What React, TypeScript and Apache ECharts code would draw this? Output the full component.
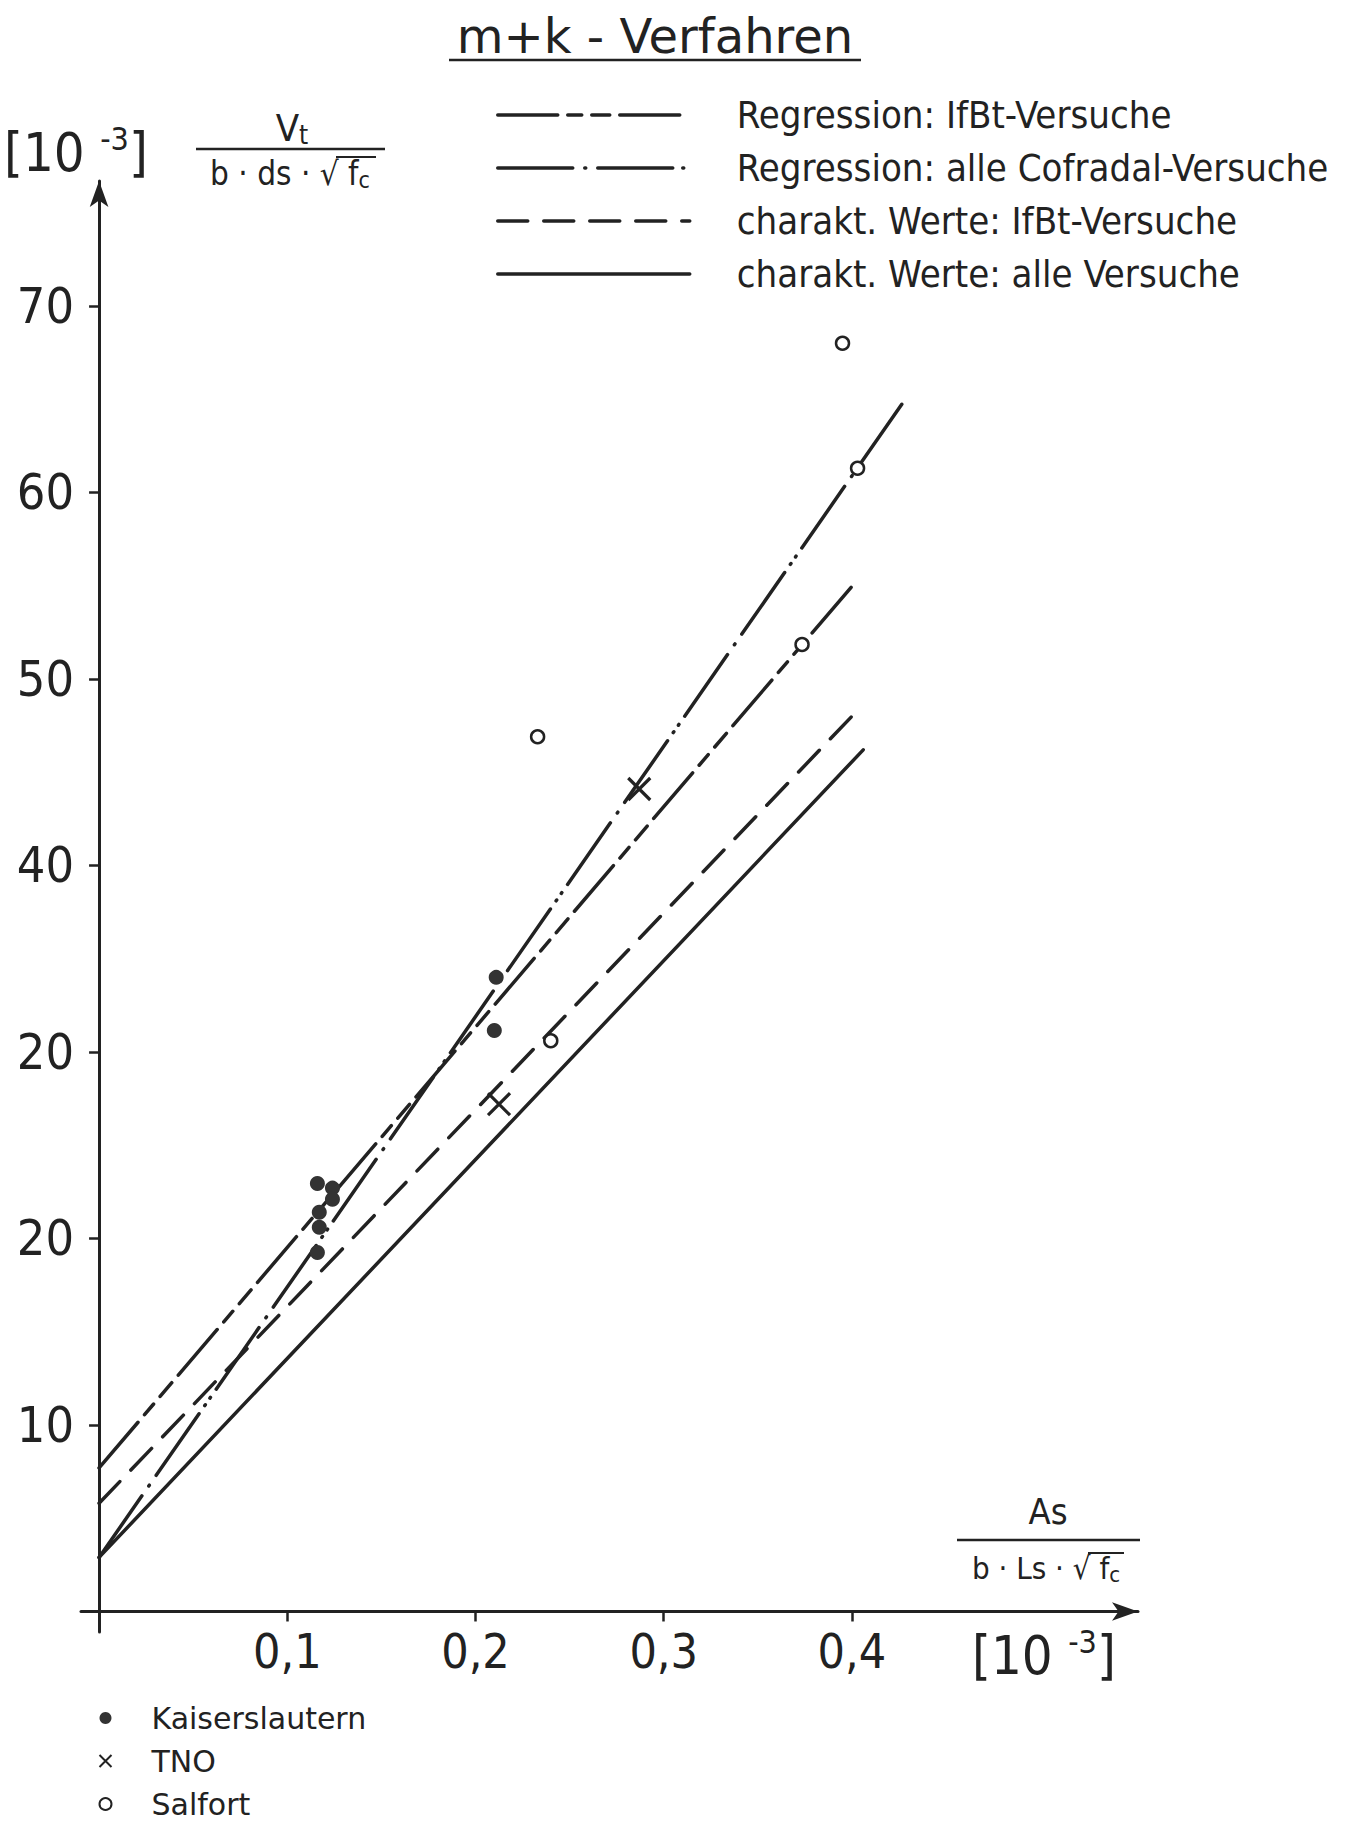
import React, { useEffect, useRef } from 'react';
import * as echarts from 'echarts';

// ---- data ----
const lineNames = [
  'Regression: IfBt-Versuche',
  'Regression: alle Cofradal-Versuche',
  'charakt. Werte: IfBt-Versuche',
  'charakt. Werte: alle Versuche',
];
const lineStartX = [0, 0, 0, 0];
const lineStartY = [7.7, 2.9, 5.8, 2.9];
const lineEndX = [0.402, 0.427, 0.4, 0.406];
const lineEndY = [55.2, 64.8, 48.0, 46.2];

const pointNames = ['Kaiserslautern', 'TNO', 'Salfort'];
const kaiserX = [0.116, 0.124, 0.124, 0.117, 0.117, 0.116, 0.211, 0.21];
const kaiserY = [22.95, 22.7, 22.1, 21.4, 20.6, 19.25, 34.0, 31.15];
const tnoX = [0.2125, 0.287];
const tnoY = [27.2, 44.1];
const salfortX = [0.233, 0.24, 0.3735, 0.395, 0.403];
const salfortY = [46.9, 30.6, 51.85, 68.0, 61.3];

const xTickValues = [0.1, 0.2, 0.3, 0.4];
const xTickLabels = ['0,1', '0,2', '0,3', '0,4'];
const yTickValues = [10, 20, 30, 40, 50, 60, 70];
const yTickLabels = ['10', '20', '20', '40', '50', '60', '70'];

// ---- styles ----
const INK = '#222';
const FONT = "'DejaVu Sans Condensed', 'DejaVu Sans', sans-serif";
const WIDE = "'DejaVu Sans', sans-serif";
const lineDashes: any[] = [
  [60, 10, 14, 10, 18, 10],
  [75, 12, 1, 12, 75, 10, 1, 8, 1, 10],
  [30, 16],
  'solid',
];

export default function App() {
  const ref = useRef<HTMLDivElement>(null);
  useEffect(() => {
    if (!ref.current) return;
    const chart = echarts.init(ref.current, undefined, { renderer: 'svg' });

    const lineSeries = lineNames.map((name, i) => ({
      name,
      type: 'line',
      data: [
        [lineStartX[i], lineStartY[i]],
        [lineEndX[i], lineEndY[i]],
      ],
      symbol: 'none',
      z: 2,
      lineStyle: { color: INK, width: 3.5, type: lineDashes[i], cap: 'round' },
      itemStyle: { color: INK },
    }));

    const zip = (xs: number[], ys: number[]) => xs.map((x, i) => [x, ys[i]]);

    const scatterSeries = [
      {
        name: pointNames[0],
        type: 'scatter',
        data: zip(kaiserX, kaiserY),
        symbol: 'circle',
        symbolSize: 15,
        z: 5,
        itemStyle: { color: '#333', opacity: 1 },
      },
      {
        name: pointNames[1],
        type: 'scatter',
        data: zip(tnoX, tnoY),
        symbol: 'path://M0,0L10,10M10,0L0,10',
        symbolSize: 22,
        z: 5,
        itemStyle: { color: 'none', borderColor: INK, borderWidth: 3.2, opacity: 1 },
      },
      {
        name: pointNames[2],
        type: 'scatter',
        data: zip(salfortX, salfortY),
        symbol: 'circle',
        symbolSize: 13,
        z: 5,
        itemStyle: { color: '#fff', borderColor: INK, borderWidth: 2.5, opacity: 1 },
      },
    ];

    const bracket = (x: number, y: number) => ({
      type: 'text',
      x,
      y,
      style: {
        text: '{a|[10 }{s|-3}{a|]}',
        fill: INK,
        verticalAlign: 'middle',
        rich: {
          a: { fontSize: 54, lineHeight: 58, fontFamily: FONT, fill: INK },
          s: { fontSize: 32, lineHeight: 32, fontFamily: FONT, fill: INK, verticalAlign: 'top' },
        },
      },
    });

    const option: any = {
      animation: false,
      backgroundColor: '#fff',
      textStyle: { fontFamily: FONT, color: INK },
      grid: { left: 81, top: 181, width: 1057, height: 1451, containLabel: false },
      xAxis: {
        type: 'value',
        min: -0.0096,
        max: 0.552,
        axisLine: {
          show: true,
          onZero: true,
          symbol: ['none', 'arrow'],
          symbolSize: [14, 26],
          lineStyle: { color: INK, width: 3 },
        },
        axisTick: {
          show: true,
          customValues: xTickValues,
          length: 10,
          lineStyle: { color: INK, width: 2.5 },
        },
        axisLabel: {
          customValues: xTickValues,
          formatter: (v: number) => {
            const k = xTickValues.findIndex((t) => Math.abs(t - v) < 1e-6);
            return k >= 0 ? xTickLabels[k] : '';
          },
          fontSize: 48,
          fontFamily: FONT,
          color: INK,
          margin: -5,
        },
        splitLine: { show: false },
      },
      yAxis: {
        type: 'value',
        min: -1.1,
        max: 76.7,
        axisLine: {
          show: true,
          onZero: true,
          symbol: ['none', 'arrow'],
          symbolSize: [14, 26],
          lineStyle: { color: INK, width: 3 },
        },
        axisTick: {
          show: true,
          customValues: yTickValues,
          length: 10,
          lineStyle: { color: INK, width: 2.5 },
        },
        axisLabel: {
          customValues: yTickValues,
          formatter: (v: number) => {
            const k = yTickValues.findIndex((t) => Math.abs(t - v) < 1e-6);
            return k >= 0 ? yTickLabels[k] : '';
          },
          fontSize: 50,
          fontFamily: FONT,
          color: INK,
          margin: 7,
        },
        splitLine: { show: false },
      },
      legend: [
        {
          data: lineNames,
          orient: 'vertical',
          left: 496,
          top: 95,
          itemWidth: 192,
          itemHeight: 14,
          itemGap: 13,
          padding: 0,
          lineStyle: { width: 3.5 },
          itemStyle: { color: 'rgba(0,0,0,0)', borderColor: 'rgba(0,0,0,0)', borderWidth: 0, opacity: 0 },
          textStyle: {
            fontSize: 38,
            lineHeight: 40,
            fontFamily: FONT,
            color: INK,
            padding: [0, 0, 0, 42],
          },
        },
        {
          data: pointNames,
          orient: 'vertical',
          left: 97,
          top: 1703,
          height: 140,
          itemWidth: 12,
          itemHeight: 12,
          itemGap: 13,
          padding: 0,
          textStyle: {
            fontSize: 30,
            lineHeight: 30,
            fontFamily: WIDE,
            color: INK,
            padding: [0, 0, 0, 35],
          },
        },
      ],
      graphic: [
        {
          type: 'text',
          x: 655,
          y: 36,
          style: {
            text: 'm+k - Verfahren',
            fontSize: 48,
            fontFamily: WIDE,
            fill: INK,
            align: 'center',
            verticalAlign: 'middle',
          },
        },
        { type: 'line', shape: { x1: 449, y1: 60, x2: 861, y2: 60 }, style: { stroke: INK, lineWidth: 2.5 } },
        bracket(4, 152),
        {
          type: 'text',
          x: 292,
          y: 128,
          style: {
            text: '{v|V}{t|t}',
            align: 'center',
            verticalAlign: 'middle',
            rich: {
              v: { fontSize: 38, lineHeight: 40, fontFamily: FONT, fill: INK },
              t: { fontSize: 26, lineHeight: 40, fontFamily: FONT, fill: INK, verticalAlign: 'bottom' },
            },
          },
        },
        { type: 'line', shape: { x1: 196, y1: 149, x2: 385, y2: 149 }, style: { stroke: INK, lineWidth: 2.5 } },
        {
          type: 'text',
          x: 290,
          y: 173,
          style: {
            text: '{d|b · ds · √ f}{c|c}',
            align: 'center',
            verticalAlign: 'middle',
            rich: {
              d: { fontSize: 33, lineHeight: 36, fontFamily: FONT, fill: INK },
              c: { fontSize: 23, lineHeight: 36, fontFamily: FONT, fill: INK, verticalAlign: 'bottom' },
            },
          },
        },
        { type: 'line', shape: { x1: 336, y1: 157, x2: 376, y2: 157 }, style: { stroke: INK, lineWidth: 2 } },
        {
          type: 'text',
          x: 1048,
          y: 1511,
          style: {
            text: 'As',
            fontSize: 36,
            fontFamily: FONT,
            fill: INK,
            align: 'center',
            verticalAlign: 'middle',
          },
        },
        { type: 'line', shape: { x1: 957, y1: 1540, x2: 1140, y2: 1540 }, style: { stroke: INK, lineWidth: 2.5 } },
        {
          type: 'text',
          x: 1046,
          y: 1568,
          style: {
            text: '{d|b · Ls · √ f}{c|c}',
            align: 'center',
            verticalAlign: 'middle',
            rich: {
              d: { fontSize: 31, lineHeight: 34, fontFamily: FONT, fill: INK },
              c: { fontSize: 22, lineHeight: 34, fontFamily: FONT, fill: INK, verticalAlign: 'bottom' },
            },
          },
        },
        { type: 'line', shape: { x1: 1088, y1: 1553, x2: 1124, y2: 1553 }, style: { stroke: INK, lineWidth: 2 } },
        bracket(972, 1655),
      ],
      series: [...lineSeries, ...scatterSeries],
    };

    chart.setOption(option);
    return () => chart.dispose();
  }, []);

  return (
    <div
      ref={ref}
      style={{ position: 'absolute', left: 0, top: 0, width: 1349, height: 1829, background: '#fff' }}
    />
  );
}
